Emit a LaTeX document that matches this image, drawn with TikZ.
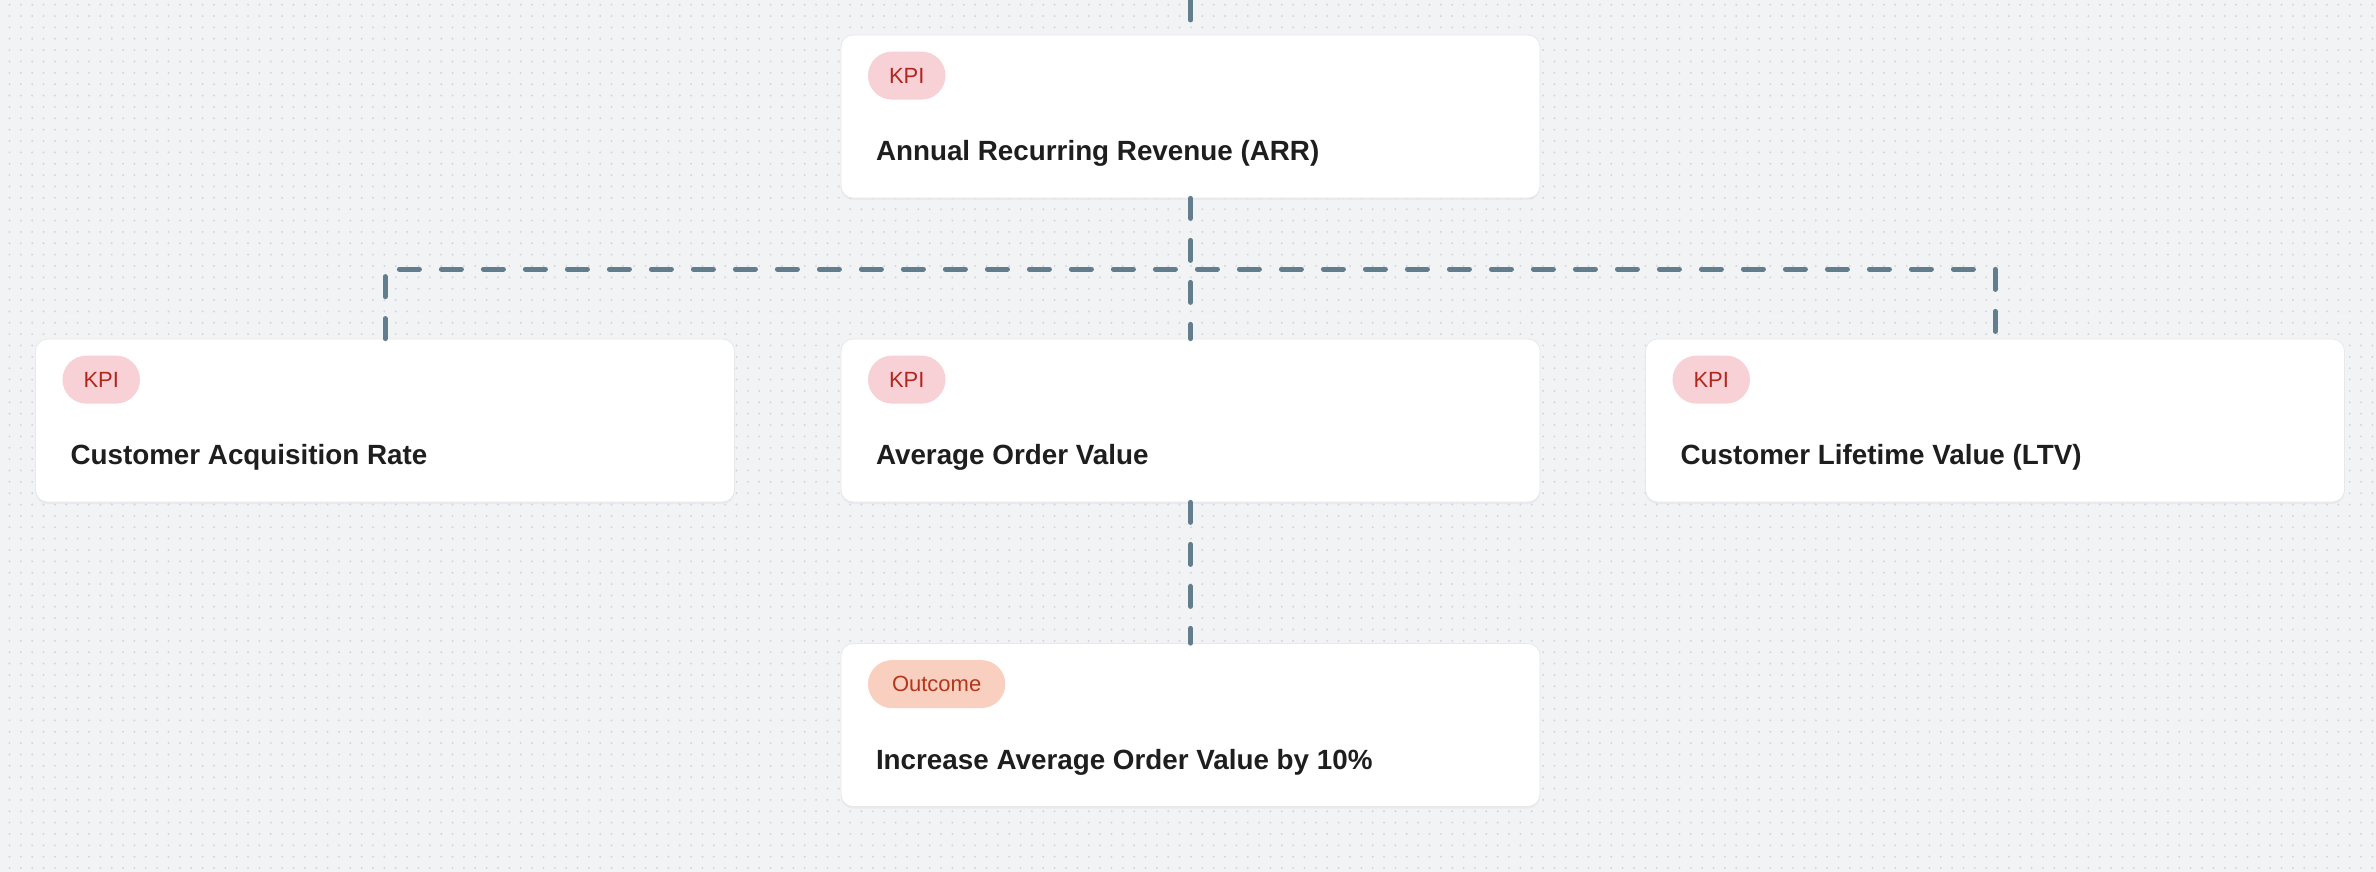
\documentclass[tikz,border=0pt]{standalone}
\usepackage{fontspec}
\setmainfont{Liberation Sans}
\usetikzlibrary{shadows}
\definecolor{bggray}{HTML}{F2F3F5}
\definecolor{dotgray}{HTML}{D3D5E0}
\definecolor{linkgray}{HTML}{627D8C}
\definecolor{cardline}{HTML}{E6E8EC}
\definecolor{kpifill}{HTML}{F7D1D5}
\definecolor{kpitext}{HTML}{B3261E}
\definecolor{outfill}{HTML}{F9CFC0}
\definecolor{outtext}{HTML}{B3361B}
\definecolor{titletext}{HTML}{1E1E1E}
\tikzset{
  card/.style={rounded corners=6pt, fill=white, draw=cardline, line width=0.4pt,
    minimum width=349.5pt, minimum height=81.5pt,
    drop shadow={shadow xshift=0pt, shadow yshift=-1pt, opacity=0.07}},
  tag/.style={rounded corners=12pt, minimum height=24pt, inner xsep=10.5pt,
    inner ysep=0pt, font=\fontsize{11}{13}\selectfont, anchor=west},
  kpitag/.style={tag, fill=kpifill, text=kpitext},
  outtag/.style={tag, inner xsep=12pt, fill=outfill, text=outtext},
  cardtitle/.style={anchor=west, inner sep=0pt, text=titletext,
    font=\fontsize{13.9}{16}\selectfont\bfseries},
  link/.style={draw=linkgray, line width=2.5pt, line cap=round,
    dash pattern=on 10pt off 11pt},
  dotrow/.style={draw=dotgray, line width=1.1pt, line cap=round,
    dash pattern=on 0pt off 5.68pt}
}

\begin{document}
\begin{tikzpicture}[x=0.5pt, y=-0.5pt, line join=round]

\fill[bggray] (0,0) rectangle (2376,872);
\useasboundingbox (0,0) rectangle (2376,872);
\foreach \r in {0,...,76}
  \draw[dotrow] (9.5,{4.7+\r*11.36}) -- (2376,{4.7+\r*11.36});

\node[card] (arr) at (1190.5,116.5) {};
\node[card] (acq) at (385,420.5) {};
\node[card] (aov) at (1190.5,420.5) {};
\node[card] (ltv) at (1995,420.5) {};
\node[card] (goal) at (1190.5,725) {};

\coordinate (topend) at (1190.5,0);
\coordinate (bus) at (1190.5,269);

\draw[link] (topend) -- (arr.north);
\draw[link] (arr.south) -- (aov.north);
\draw[link] (acq.north) -- (acq.north |- bus) -- (ltv.north |- bus) -- (ltv.north);
\draw[link] (aov.south) -- (goal.north);

\node[kpitag] (arrtag) at ([xshift=13.5pt, yshift=-20.5pt]arr.north west) {KPI};
\node[cardtitle] (arrtitle) at ([xshift=17.5pt, yshift=-59.5pt]arr.north west) {Annual Recurring Revenue (ARR)};

\node[kpitag] (acqtag) at ([xshift=13.5pt, yshift=-20.5pt]acq.north west) {KPI};
\node[cardtitle] (acqtitle) at ([xshift=17.5pt, yshift=-59.5pt]acq.north west) {Customer Acquisition Rate};

\node[kpitag] (aovtag) at ([xshift=13.5pt, yshift=-20.5pt]aov.north west) {KPI};
\node[cardtitle] (aovtitle) at ([xshift=17.5pt, yshift=-59.5pt]aov.north west) {Average Order Value};

\node[kpitag] (ltvtag) at ([xshift=13.5pt, yshift=-20.5pt]ltv.north west) {KPI};
\node[cardtitle] (ltvtitle) at ([xshift=17.5pt, yshift=-59.5pt]ltv.north west) {Customer Lifetime Value (LTV)};

\node[outtag] (goaltag) at ([xshift=13.5pt, yshift=-20.5pt]goal.north west) {Outcome};
\node[cardtitle] (goaltitle) at ([xshift=17.5pt, yshift=-59.5pt]goal.north west) {Increase Average Order Value by 10\%};

\end{tikzpicture}
\end{document}
